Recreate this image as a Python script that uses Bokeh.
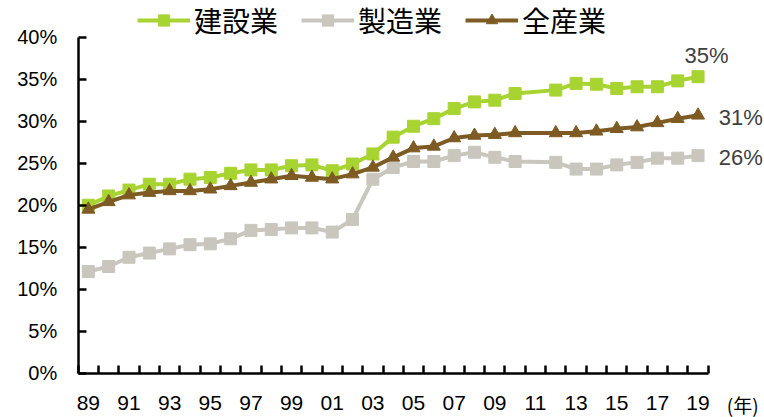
from bokeh.plotting import figure
from bokeh.models import FixedTicker, PrintfTickFormatter, Legend, LegendItem, Label, Range1d
from bokeh.embed import file_html
from bokeh.resources import INLINE

# Survey years (2011 has no figure, so the lines join 2010 to 2012)
years = [1989, 1990, 1991, 1992, 1993, 1994, 1995, 1996, 1997, 1998, 1999,
         2000, 2001, 2002, 2003, 2004, 2005, 2006, 2007, 2008, 2009, 2010,
         2012, 2013, 2014, 2015, 2016, 2017, 2018, 2019]

# Share of workers aged 55 and over (%)
construction = [20.0, 21.1, 21.8, 22.5, 22.5, 23.1, 23.3, 23.8, 24.2, 24.2, 24.7,
                24.8, 24.1, 24.9, 26.1, 28.1, 29.4, 30.3, 31.5, 32.3, 32.5, 33.3,
                33.7, 34.5, 34.4, 33.9, 34.1, 34.1, 34.8, 35.3]
manufacturing = [12.1, 12.7, 13.8, 14.3, 14.8, 15.3, 15.4, 16.0, 17.0, 17.1, 17.3,
                 17.3, 16.8, 18.3, 23.1, 24.5, 25.2, 25.2, 25.9, 26.3, 25.7, 25.2,
                 25.1, 24.3, 24.3, 24.8, 25.1, 25.6, 25.6, 25.9]
all_industries = [19.5, 20.4, 21.2, 21.5, 21.7, 21.7, 21.9, 22.3, 22.7, 23.1, 23.5,
                  23.3, 23.1, 23.7, 24.5, 25.7, 26.8, 27.0, 28.0, 28.3, 28.4, 28.6,
                  28.6, 28.6, 28.8, 29.1, 29.3, 29.8, 30.3, 30.7]

series_names = ["建設業", "製造業", "全産業"]
y_ticks = [0, 5, 10, 15, 20, 25, 30, 35, 40]
label_years = list(range(1989, 2020, 2))
year_unit = "(年)"

GREEN = "#a8d432"
GRAY = "#c9c6bd"
BROWN = "#7d5b22"
NUM_FONT = "Liberation Sans"
JP_FONT = "Noto Sans CJK JP"

X0, X1 = 1988.5, 2019.5   # extent of the category axis
Y0, Y1 = 0, 40            # extent of the value axis

# The frame fills the whole canvas; axes are pinned at the data origin
# so that the end labels and the legend can sit around the plotted area.
p = figure(width=764, height=417, output_backend="svg", toolbar_location=None,
           x_range=Range1d(1984.677, 2022.27), y_range=Range1d(-5.274, 44.369),
           min_border=0, min_border_left=0, min_border_right=0,
           min_border_top=0, min_border_bottom=0)
p.outline_line_color = None
p.xgrid.visible = False
p.ygrid.visible = False
p.background_fill_color = "white"
p.border_fill_color = "white"

# Category-style x axis: tick marks between years, labels on odd years
p.xaxis.fixed_location = Y0
p.xaxis.bounds = (X0, X1)
p.xaxis.ticker = FixedTicker(ticks=label_years,
                             minor_ticks=[y - 0.5 for y in range(1989, 2021)])
p.xaxis.major_label_overrides = {y: f"{y % 100:02d}" for y in label_years}
p.xaxis.major_tick_in = 0
p.xaxis.major_tick_out = 0
p.xaxis.minor_tick_in = 8
p.xaxis.minor_tick_out = 0
p.xaxis.major_label_standoff = 23
p.xaxis.major_label_text_font = NUM_FONT
p.xaxis.major_label_text_font_size = "21px"
p.xaxis.major_label_text_color = "black"

p.yaxis.fixed_location = X0
p.yaxis.bounds = (Y0, Y1)
p.yaxis.ticker = FixedTicker(ticks=y_ticks, minor_ticks=[])
p.yaxis.formatter = PrintfTickFormatter(format="%d%%")
p.yaxis.major_tick_in = 8
p.yaxis.major_tick_out = 0
p.yaxis.minor_tick_in = 0
p.yaxis.minor_tick_out = 0
p.yaxis.major_label_standoff = 21
p.yaxis.major_label_text_font = NUM_FONT
p.yaxis.major_label_text_font_size = "20px"
p.yaxis.major_label_text_color = "black"

for ax in (p.xaxis, p.yaxis):
    ax.axis_line_width = 2.5
    ax.axis_line_color = "black"
    ax.major_tick_line_width = 2.5
    ax.minor_tick_line_width = 2.5
    ax.major_tick_line_color = "black"
    ax.minor_tick_line_color = "black"

items = []
series = [(construction, GREEN, "square", 12),
          (manufacturing, GRAY, "square", 12),
          (all_industries, BROWN, "triangle", 13)]
for name, (vals, color, marker, size) in zip(series_names, series):
    ln = p.line(years, vals, line_color=color, line_width=4)
    sc = p.scatter(years, vals, marker=marker, size=size,
                   fill_color=color, line_color=color)
    items.append(LegendItem(label=name, renderers=[ln, sc]))

legend = Legend(items=items, orientation="horizontal", location=(137, 377),
                label_text_font=JP_FONT, label_text_font_size="28px",
                label_text_color="black", glyph_width=53, glyph_height=28,
                label_standoff=4, spacing=23, padding=0, margin=0,
                border_line_color=None, background_fill_alpha=0)
p.add_layout(legend, "center")

# End-of-line value labels
end_labels = [(construction[-1], 2019.42, 2.5),
              (all_industries[-1], 2021.1, -0.3),
              (manufacturing[-1], 2021.1, -0.2)]
for v, lx, dy in end_labels:
    p.add_layout(Label(x=lx, y=v + dy, text=f"{round(v)}%",
                       text_align="center", text_baseline="middle",
                       text_font=NUM_FONT, text_font_size="22px",
                       text_color="#404040"))

p.add_layout(Label(x=2021.2, y=-3.75, text=year_unit, text_align="center",
                   text_baseline="middle", text_font=JP_FONT,
                   text_font_size="19px", text_color="black"))

open("out.html", "w").write(file_html(p, INLINE))
